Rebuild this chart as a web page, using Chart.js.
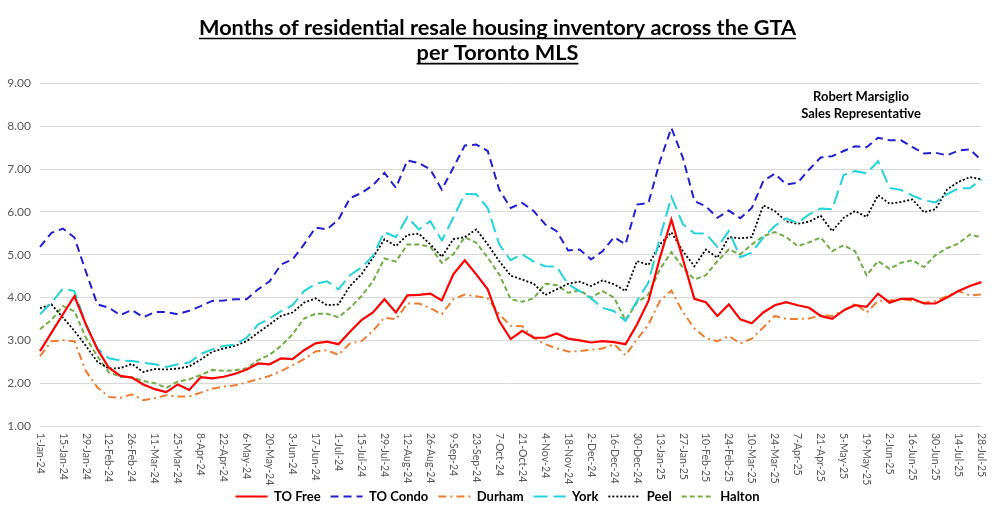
<!DOCTYPE html>
<html><head><meta charset="utf-8">
<script src="https://cdn.jsdelivr.net/npm/chart.js@4.4.0/dist/chart.umd.min.js"></script>
<style>html,body{margin:0;padding:0;background:#fff;}canvas{display:block;}</style>
</head><body>
<canvas id="c" width="1000" height="524"></canvas>
<script>
const weekLabels = ["1-Jan-24","8-Jan-24","15-Jan-24","22-Jan-24","29-Jan-24","5-Feb-24","12-Feb-24","19-Feb-24","26-Feb-24","4-Mar-24","11-Mar-24","18-Mar-24","25-Mar-24","1-Apr-24","8-Apr-24","15-Apr-24","22-Apr-24","29-Apr-24","6-May-24","13-May-24","20-May-24","27-May-24","3-Jun-24","10-Jun-24","17-Jun-24","24-Jun-24","1-Jul-24","8-Jul-24","15-Jul-24","22-Jul-24","29-Jul-24","5-Aug-24","12-Aug-24","19-Aug-24","26-Aug-24","2-Sep-24","9-Sep-24","16-Sep-24","23-Sep-24","30-Sep-24","7-Oct-24","14-Oct-24","21-Oct-24","28-Oct-24","4-Nov-24","11-Nov-24","18-Nov-24","25-Nov-24","2-Dec-24","9-Dec-24","16-Dec-24","23-Dec-24","30-Dec-24","6-Jan-25","13-Jan-25","20-Jan-25","27-Jan-25","3-Feb-25","10-Feb-25","17-Feb-25","24-Feb-25","3-Mar-25","10-Mar-25","17-Mar-25","24-Mar-25","31-Mar-25","7-Apr-25","14-Apr-25","21-Apr-25","28-Apr-25","5-May-25","12-May-25","19-May-25","26-May-25","2-Jun-25","9-Jun-25","16-Jun-25","23-Jun-25","30-Jun-25","7-Jul-25","14-Jul-25","21-Jul-25","28-Jul-25"];

const toFree = [2.75,3.18,3.61,4.03,3.37,2.79,2.36,2.17,2.13,1.97,
1.86,1.79,1.97,1.84,2.14,2.11,2.15,2.22,2.32,2.46,
2.44,2.58,2.56,2.77,2.93,2.97,2.91,3.20,3.47,3.65,
3.96,3.65,4.05,4.06,4.09,3.93,4.54,4.87,4.54,4.19,
3.45,3.03,3.22,3.06,3.06,3.16,3.04,3.00,2.95,2.98,
2.96,2.91,3.37,3.92,4.93,5.82,4.89,3.97,3.89,3.57,
3.84,3.49,3.40,3.65,3.82,3.89,3.82,3.76,3.57,3.50,
3.70,3.82,3.78,4.09,3.88,3.97,3.97,3.86,3.86,4.00,
4.15,4.27,4.36];

const toCondo = [5.18,5.51,5.61,5.40,4.60,3.84,3.76,3.59,3.71,3.54,
3.66,3.66,3.61,3.69,3.80,3.92,3.93,3.96,3.96,4.19,
4.38,4.77,4.89,5.24,5.63,5.59,5.82,6.32,6.44,6.62,
6.91,6.56,7.20,7.14,6.99,6.52,7.03,7.55,7.57,7.42,
6.52,6.09,6.21,6.02,5.71,5.55,5.10,5.12,4.89,5.08,
5.41,5.24,6.17,6.21,7.18,7.96,7.26,6.25,6.13,5.86,
6.03,5.85,6.09,6.72,6.89,6.64,6.68,6.99,7.27,7.30,
7.42,7.53,7.51,7.73,7.67,7.67,7.51,7.36,7.38,7.32,
7.43,7.46,7.20];

const durham = [2.63,2.98,3.00,2.98,2.28,1.90,1.68,1.66,1.74,1.60,
1.65,1.72,1.69,1.69,1.78,1.87,1.92,1.95,2.02,2.09,
2.17,2.28,2.42,2.56,2.74,2.77,2.66,2.93,2.98,3.22,
3.53,3.49,3.86,3.86,3.75,3.61,3.96,4.07,4.03,3.98,
3.61,3.34,3.33,3.06,2.91,2.81,2.74,2.75,2.78,2.81,
2.91,2.65,3.02,3.37,3.92,4.16,3.66,3.28,3.05,2.98,
3.10,2.93,3.04,3.30,3.57,3.50,3.50,3.51,3.59,3.57,
3.70,3.86,3.65,3.92,3.93,3.96,3.93,3.88,3.92,4.03,
4.15,4.05,4.07];

const york = [3.61,3.88,4.21,4.15,3.37,2.81,2.58,2.53,2.52,2.48,
2.44,2.38,2.44,2.48,2.68,2.79,2.87,2.90,3.06,3.37,
3.51,3.68,3.82,4.15,4.32,4.38,4.19,4.52,4.70,4.97,
5.53,5.41,5.88,5.59,5.78,5.33,5.86,6.42,6.41,6.09,
5.24,4.87,5.01,4.84,4.73,4.72,4.31,4.15,3.98,3.76,
3.68,3.45,3.92,4.35,5.40,6.35,5.71,5.50,5.49,5.18,
5.55,4.94,5.05,5.40,5.67,5.85,5.74,5.94,6.08,6.06,
6.86,6.95,6.90,7.18,6.56,6.51,6.38,6.27,6.22,6.41,
6.55,6.55,6.76];

const peel = [3.75,3.84,3.53,3.22,2.87,2.50,2.34,2.35,2.45,2.26,
2.33,2.32,2.34,2.39,2.55,2.73,2.81,2.87,2.98,3.18,
3.37,3.57,3.65,3.88,3.98,3.82,3.84,4.27,4.54,4.93,
5.36,5.20,5.46,5.49,5.24,4.95,5.36,5.41,5.59,5.24,
4.85,4.51,4.42,4.32,4.06,4.19,4.32,4.37,4.27,4.40,
4.31,4.15,4.85,4.76,5.24,5.52,5.08,4.73,5.12,4.93,
5.41,5.38,5.41,6.15,6.02,5.78,5.72,5.77,5.91,5.55,
5.86,6.02,5.88,6.39,6.19,6.23,6.29,5.99,6.06,6.52,
6.70,6.81,6.76];

const halton = [3.26,3.48,3.80,3.68,3.06,2.63,2.25,2.15,2.14,2.05,
2.00,1.89,2.04,2.09,2.19,2.31,2.29,2.30,2.35,2.54,
2.66,2.87,3.14,3.51,3.62,3.62,3.54,3.76,4.03,4.38,
4.91,4.84,5.24,5.24,5.18,4.81,5.01,5.41,5.28,4.93,
4.54,3.96,3.90,3.98,4.32,4.29,4.11,4.17,4.00,4.15,
4.00,3.47,3.88,4.07,4.66,5.06,4.70,4.42,4.52,4.85,
5.12,5.01,5.24,5.43,5.53,5.41,5.20,5.29,5.40,5.08,
5.22,5.08,4.52,4.85,4.67,4.81,4.87,4.71,4.99,5.15,
5.26,5.47,5.40];

const titleLines = ["Months of residential resale housing inventory across the GTA", "per Toronto MLS"];
const signature = ["Robert Marsiglio", "Sales Representative"];

const FONT = 'Lato';

const underlinePlugin = {
  id: 'titleUnderline',
  afterDraw(chart) {
    const tb = chart.titleBlock; if (!tb) return;
    const o = chart.options.plugins.title;
    const size = o.font.size, lh = size * o.font.lineHeight;
    const c = chart.ctx;
    c.save();
    c.font = `bold ${size}px ${FONT}`;
    c.strokeStyle = '#000'; c.lineWidth = 1.6;
    const midX = (tb.left + tb.right) / 2;
    titleLines.forEach((t, k) => {
      const w = c.measureText(t).width;
      const y = tb.top + o.padding.top + lh / 2 + k * lh + size * 0.5;
      c.beginPath(); c.moveTo(midX - w / 2, y); c.lineTo(midX + w / 2, y); c.stroke();
    });
    c.restore();
  }
};

const xLabelPlugin = {
  id: 'xLabels',
  afterDraw(chart) {
    const xs = chart.scales.x, c = chart.ctx;
    c.save();
    c.font = `10.5px ${FONT}`; c.fillStyle = '#595959';
    c.textAlign = 'left'; c.textBaseline = 'middle';
    weekLabels.forEach((lab, i) => {
      if (i % 2) return;
      const x = xs.getPixelForValue(i);
      c.save(); c.translate(x, xs.top + 7); c.rotate(Math.PI / 2);
      c.fillText(lab, 0, 0); c.restore();
    });
    c.restore();
  }
};

const signaturePlugin = {
  id: 'signature',
  afterDraw(chart) {
    const c = chart.ctx;
    c.save();
    c.font = `bold 13px ${FONT}`; c.fillStyle = '#000';
    c.textAlign = 'center'; c.textBaseline = 'middle';
    c.fillText(signature[0], 861, 97);
    c.fillText(signature[1], 861, 114);
    c.restore();
  }
};

function ds(label, data, color, dash, width) {
  return { label, data, borderColor: color, backgroundColor: color, borderDash: dash,
    borderWidth: width, pointRadius: 0, pointHoverRadius: 0, tension: 0, fill: false };
}

new Chart(document.getElementById('c'), {
  type: 'line',
  data: {
    labels: weekLabels,
    datasets: [
      ds('TO Free', toFree, '#FF0000', [], 2.2),
      ds('TO Condo', toCondo, '#2020D0', [8, 5], 2),
      ds('Durham', durham, '#ED7D31', [8, 4, 2, 4], 2),
      ds('York', york, '#22D3DA', [14, 6], 2),
      ds('Peel', peel, '#000000', [2, 2], 1.8),
      ds('Halton', halton, '#70AD47', [5, 3], 2)
    ]
  },
  options: {
    responsive: false,
    animation: false,
    layout: { padding: { left: 6, right: 11, top: 0, bottom: 11 } },
    scales: {
      x: {
        grid: { display: false }, border: { display: false },
        afterFit(scale) { scale.height = 54; },
        ticks: { autoSkip: false, minRotation: 90, maxRotation: 90, color: 'rgba(0,0,0,0)',
          font: { family: FONT, size: 10.5 }, padding: 6,
          callback: (v, i) => (i % 2 === 0 ? weekLabels[i] : '') }
      },
      y: {
        min: 1, max: 9,
        afterFit(scale) { scale.width = 34; },
        grid: { color: '#d9d9d9', lineWidth: 1, drawTicks: false }, border: { display: false },
        ticks: { stepSize: 1, color: '#595959', font: { family: FONT, size: 12 }, padding: 9,
          callback: v => Number(v).toFixed(2) }
      }
    },
    plugins: {
      title: { display: true, text: titleLines, color: '#000',
        font: { family: FONT, size: 21.7, weight: 'bold', lineHeight: 1.16 },
        padding: { top: 15, bottom: 18 } },
      legend: { position: 'bottom',
        labels: { usePointStyle: true, pointStyle: 'line', pointStyleWidth: 32, color: '#000',
          font: { family: FONT, size: 13, weight: 'bold' }, padding: 10,
          generateLabels(chart) {
            const items = Chart.defaults.plugins.legend.labels.generateLabels(chart);
            items.forEach(it => {
              const d = chart.data.datasets[it.datasetIndex];
              it.lineDash = d.borderDash; it.lineWidth = d.borderWidth;
              it.strokeStyle = d.borderColor; it.pointStyle = 'line';
            });
            return items;
          } } },
      tooltip: { enabled: false }
    }
  },
  plugins: [underlinePlugin, xLabelPlugin, signaturePlugin]
});
</script>
</body></html>
